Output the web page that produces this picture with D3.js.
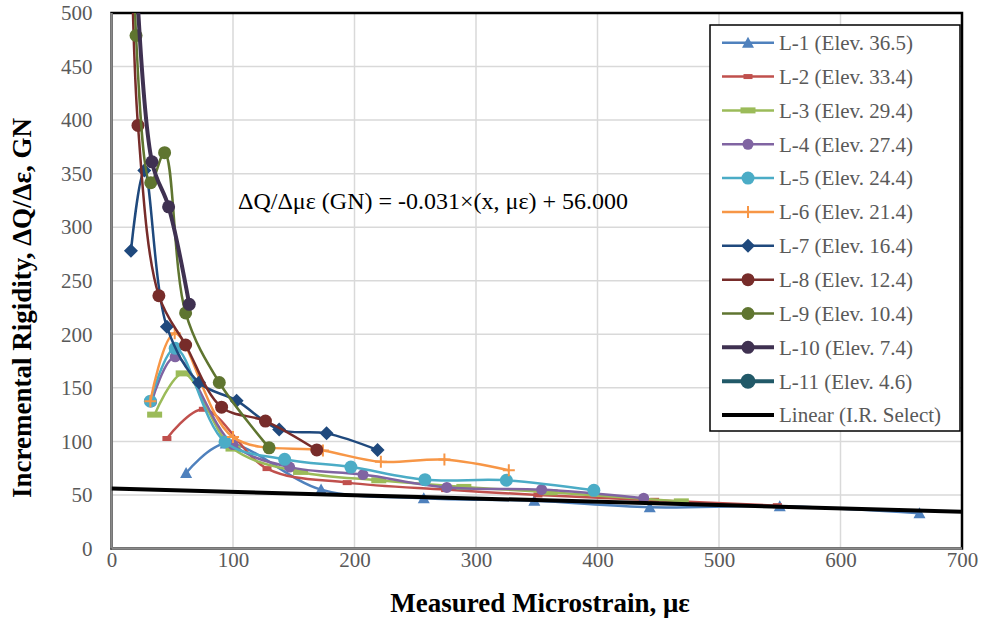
<!DOCTYPE html>
<html>
<head>
<meta charset="utf-8">
<script src="https://cdn.jsdelivr.net/npm/d3@7/dist/d3.min.js"></script>
<style>
  body { margin: 0; background: #fff; }
  svg { display: block; font-family: "Liberation Serif", "Times New Roman", serif; }
</style>
</head>
<body>
<div class="chartHolder"></div>
<script>
// series values, [microstrain, GN]
const l1 = [[61.4, 70.5], [94, 98], [172.5, 55], [257, 47], [348, 44.5], [443, 38.5], [550, 39.5], [665, 33]];
const l2 = [[45.6, 102.7], [75.6, 130], [128, 74.6], [194, 61.5], [275, 55], [351, 50], [447, 45], [548, 40]];
const l3 = [[35.5, 125], [59, 163.5], [100, 93.3], [155.6, 71.5], [220, 63.7], [290, 57.5], [361, 52.5], [469, 44]];
const l4 = [[33, 137], [52.4, 179], [100, 97], [146.6, 76], [207, 69], [276, 57], [354, 55], [438, 47]];
const l5 = [[32, 137.6], [52.4, 187], [93.4, 99.5], [142.5, 83.3], [197, 76], [258, 64.3], [325, 63.7], [397, 54.3]];
const l6 = [[32, 137.6], [52, 201], [100, 104], [174, 91.5], [221.7, 81], [274, 83], [327, 73]];
const l7 = [[16, 278], [27, 353], [45.6, 207], [72, 155], [103, 138], [138, 111], [177, 107.5], [219, 92]];
const l8 = [[15.5, 620], [21.8, 395], [39, 236], [61, 190], [90.6, 132], [126.7, 119], [169, 92]];
const l9 = [[19.5, 620], [20.2, 479], [32.3, 341.5], [43.7, 369.6], [61, 220], [88.7, 155], [129.7, 94]];
const l10 = [[17, 620], [33.3, 361], [47, 319], [64, 228]];
const l11 = [];
const linearFit = [[0, 56], [700, 34.3]];

const seriesNames = ["L-1 (Elev. 36.5)", "L-2 (Elev. 33.4)", "L-3 (Elev. 29.4)", "L-4 (Elev. 27.4)",
  "L-5 (Elev. 24.4)", "L-6 (Elev. 21.4)", "L-7 (Elev. 16.4)", "L-8 (Elev. 12.4)", "L-9 (Elev. 10.4)",
  "L-10 (Elev. 7.4)", "L-11 (Elev. 4.6)", "Linear (I.R. Select)"];
const xTicks = [0, 100, 200, 300, 400, 500, 600, 700];
const yTicks = [0, 50, 100, 150, 200, 250, 300, 350, 400, 450, 500];
const equationText = "ΔQ/Δμε (GN) = -0.031×(x, μɛ) + 56.000";

// look of each series
const styles = [
  { color: "#4f81bd", marker: "triangle", w: 2.5 },
  { color: "#c0504d", marker: "dash", w: 2.5 },
  { color: "#9bbb59", marker: "bar", w: 2.5 },
  { color: "#8064a2", marker: "circle", r: 5.5, w: 2.5 },
  { color: "#4bacc6", marker: "circle", r: 6.5, w: 2.5 },
  { color: "#f79646", marker: "plus", w: 2.5 },
  { color: "#1f497d", marker: "diamond", w: 2.5 },
  { color: "#772c2a", marker: "circle", r: 6.5, w: 2.5 },
  { color: "#5f7530", marker: "circle", r: 6.5, w: 2.5 },
  { color: "#3f3151", marker: "circle", r: 6.5, w: 4 },
  { color: "#215968", marker: "circle", r: 7.5, w: 4 },
  { color: "#000000", marker: "none", w: 4 }
];
const allSeries = [l1, l2, l3, l4, l5, l6, l7, l8, l9, l10, l11, linearFit];

const W = 984, H = 619;
const margin = { top: 13, right: 22, bottom: 70.5, left: 111.5 };
const width = W - margin.left - margin.right;
const height = H - margin.top - margin.bottom;

const svg = d3.select(".chartHolder").append("svg")
  .attr("width", W).attr("height", H);
const g = svg.append("g").attr("transform", `translate(${margin.left},${margin.top})`);

const xScale = d3.scaleLinear().domain([0, 700]).range([0, width]);
const yScale = d3.scaleLinear().domain([0, 500]).range([height, 0]);

// gridlines
g.append("g").selectAll("line").data(yTicks).join("line")
  .attr("x1", 0).attr("x2", width)
  .attr("y1", d => yScale(d)).attr("y2", d => yScale(d))
  .attr("stroke", "#d9d9d9").attr("stroke-width", 1.5);
g.append("g").selectAll("line").data(xTicks).join("line")
  .attr("y1", 0).attr("y2", height)
  .attr("x1", d => xScale(d)).attr("x2", d => xScale(d))
  .attr("stroke", "#d9d9d9").attr("stroke-width", 1.5);

// plot frame
g.append("rect").attr("width", width).attr("height", height)
  .attr("fill", "none").attr("stroke", "#000").attr("stroke-width", 2.5);

// axes (labels only, axis lines drawn by hand)
const xAxis = g.append("g").attr("transform", `translate(0,${height})`)
  .call(d3.axisBottom(xScale).tickValues(xTicks).tickSize(0).tickPadding(4));
const yAxis = g.append("g")
  .call(d3.axisLeft(yScale).tickValues(yTicks).tickSize(0).tickPadding(19));
[xAxis, yAxis].forEach(a => {
  a.select(".domain").remove();
  a.selectAll("text").attr("font-family", "Liberation Serif, serif")
    .attr("font-size", 21).attr("fill", "#595959");
});
g.append("line").attr("x1", 0).attr("x2", 0).attr("y1", 0).attr("y2", height)
  .attr("stroke", "#898989").attr("stroke-width", 2.5);
g.append("line").attr("x1", 0).attr("x2", width).attr("y1", height).attr("y2", height)
  .attr("stroke", "#898989").attr("stroke-width", 2.5);

// clip so off-scale points get cut at the top
svg.append("defs").append("clipPath").attr("id", "plotClip")
  .append("rect").attr("width", width).attr("height", height);
const plot = g.append("g").attr("clip-path", "url(#plotClip)");

const line = d3.line()
  .x(d => xScale(d[0]))
  .y(d => yScale(d[1]))
  .curve(d3.curveCatmullRom.alpha(0.5));

const drawMarker = (sel, st, x, y) => {
  if (st.marker === "circle") {
    sel.append("circle").attr("cx", x).attr("cy", y).attr("r", st.r).attr("fill", st.color);
  } else if (st.marker === "triangle") {
    sel.append("path").attr("d", `M${x},${y - 6}L${x + 6},${y + 5}L${x - 6},${y + 5}Z`).attr("fill", st.color);
  } else if (st.marker === "diamond") {
    sel.append("path").attr("d", `M${x},${y - 7}L${x + 7},${y}L${x},${y + 7}L${x - 7},${y}Z`).attr("fill", st.color);
  } else if (st.marker === "dash") {
    sel.append("rect").attr("x", x - 4.5).attr("y", y - 2.5).attr("width", 9).attr("height", 5).attr("fill", st.color);
  } else if (st.marker === "bar") {
    sel.append("rect").attr("x", x - 7.5).attr("y", y - 3).attr("width", 15).attr("height", 6).attr("fill", st.color);
  } else if (st.marker === "plus") {
    sel.append("path").attr("d", `M${x - 6},${y}H${x + 6}M${x},${y - 6}V${y + 6}`)
      .attr("stroke", st.color).attr("stroke-width", 2);
  }
};

allSeries.forEach((data, i) => {
  if (!data.length) return;
  const st = styles[i];
  plot.append("path").datum(data)
    .attr("d", i === 11 ? d3.line().x(d => xScale(d[0])).y(d => yScale(d[1]))(data) : line(data))
    .attr("fill", "none").attr("stroke", st.color).attr("stroke-width", st.w)
    .attr("stroke-linejoin", "round");
  const mk = plot.append("g");
  data.forEach(d => drawMarker(mk, st, xScale(d[0]), yScale(d[1])));
});

// trend equation
svg.append("text").attr("x", 238).attr("y", 209)
  .attr("font-size", 24).attr("fill", "#000").text(equationText);

// legend
const lg = svg.append("g");
lg.append("rect").attr("x", 710).attr("y", 25).attr("width", 250).attr("height", 406)
  .attr("fill", "#fff").attr("stroke", "#000").attr("stroke-width", 1.5);
seriesNames.forEach((name, i) => {
  const st = styles[i];
  const y = 42.7 + i * 33.85;
  lg.append("line").attr("x1", 722).attr("x2", 774).attr("y1", y).attr("y2", y)
    .attr("stroke", st.color).attr("stroke-width", st.w);
  drawMarker(lg, st, 748, y);
  lg.append("text").attr("x", 779).attr("y", y).attr("dy", "0.35em")
    .attr("font-size", 21).attr("fill", "#595959").text(name);
});

// axis titles
svg.append("text").attr("x", 540).attr("y", 612)
  .attr("text-anchor", "middle").attr("font-size", 27).attr("font-weight", "bold")
  .text("Measured Microstrain, με");
svg.append("text").attr("transform", "rotate(-90)")
  .attr("x", -308).attr("y", 31)
  .attr("text-anchor", "middle").attr("font-size", 27).attr("font-weight", "bold")
  .text("Incremental Rigidity, ΔQ/Δε, GN");
</script>
</body>
</html>
